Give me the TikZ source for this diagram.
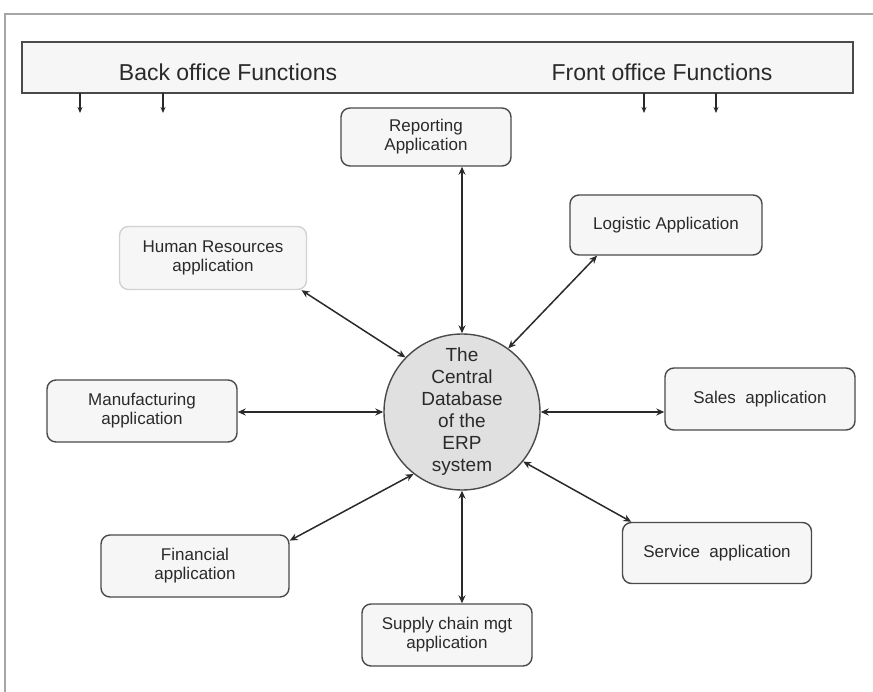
\documentclass[tikz,border=0pt]{standalone}
\usepackage{fontspec}
\setmainfont{Liberation Sans}
\usepackage{tikz}
\usetikzlibrary{arrows.meta,positioning}
\usepackage{xcolor}

\definecolor{inkgray}{HTML}{2A2A2A}
\definecolor{edgegray}{HTML}{4A4A4A}
\definecolor{boxfill}{HTML}{F6F6F6}
\definecolor{dbfill}{HTML}{E0E0E0}

\tikzset{
  appbox/.style={draw=edgegray, fill=boxfill, rounded corners=9pt, line width=1.4pt,
    align=center, text=inkgray, font=\fontsize{17}{19}\selectfont, inner sep=2pt},
  link/.style={draw=inkgray, line width=1.5pt, {Stealth[length=8pt,width=7pt]}-{Stealth[length=8pt,width=7pt]}},
  down/.style={draw=inkgray, line width=1.2pt, -{Stealth[length=6pt,width=5pt]}}
}

\begin{document}
\begin{tikzpicture}[x=1pt,y=-1pt]
    \useasboundingbox (0,0) rectangle (873,692);

    \coordinate (FrameTL) at (5,14);
    \coordinate (FrameTR) at (873,14);
    \coordinate (FrameBL) at (5,692);

    \coordinate (DB) at (462,412);
    \coordinate (Rep) at (426,137);
    \coordinate (Log) at (666,225);
    \coordinate (HR) at (213,258);
    \coordinate (Manu) at (142,411);
    \coordinate (Sal) at (760,399);
    \coordinate (Fin) at (195,566);
    \coordinate (Svc) at (717,553);
    \coordinate (Sup) at (447,635);

    \draw [gray!70, line width=2pt] (FrameBL) -- (FrameTL) -- (FrameTR);

    \node [draw=edgegray, fill=boxfill, line width=1.4pt, minimum width=831, minimum height=51] (banner) at (437.5,67.5) {};
    \node [text=inkgray, font=\fontsize{23}{26}\selectfont] (back) at (228,72) {Back office Functions};
    \node [text=inkgray, font=\fontsize{23}{26}\selectfont] (front) at (662,72) {Front office Functions};

    \foreach \x [count=\i] in {80,163,644,716} {
      \coordinate (T\i) at (\x,93);
      \coordinate (E\i) at (\x,113);
      \draw [down] (T\i) -- (E\i);
    }

    \node [draw=edgegray, fill=dbfill, circle, line width=1.4pt, minimum size=156, inner sep=0pt,
      align=center, text=inkgray, font=\fontsize{19}{22}\selectfont] (db) at (DB)
      {The\\Central\\Database\\of the\\ERP\\system};

    \node [appbox, minimum width=170, minimum height=58] (rep) at (Rep) {Reporting\\Application};
    \node [appbox, minimum width=192, minimum height=60] (log) at (Log) {Logistic Application};
    \node [appbox, draw=gray!35, minimum width=187, minimum height=63] (hr) at (HR) {Human Resources\\application};
    \node [appbox, minimum width=190, minimum height=62] (manu) at (Manu) {Manufacturing\\application};
    \node [appbox, minimum width=190, minimum height=62] (sal) at (Sal) {Sales\ \ application};
    \node [appbox, minimum width=188, minimum height=62] (fin) at (Fin) {Financial\\application};
    \node [appbox, minimum width=189, minimum height=61] (svc) at (Svc) {Service\ \ application};
    \node [appbox, minimum width=170, minimum height=62] (sup) at (Sup) {Supply chain mgt\\application};

    \draw [link] (db.north) to (db.north |- rep.south);
    \draw [link] (db.54) to (log.204);
    \draw [link] (db.136) to (hr.-20);
    \draw [link] (db.west) to (db.west -| manu.east);
    \draw [link] (db.east) to (db.east -| sal.west);
    \draw [link] (db.-128) to (fin.15);
    \draw [link] (db.-39) to (svc.160);
    \draw [link] (db.south) to (db.south |- sup.north);
  \end{tikzpicture}
\end{document}
